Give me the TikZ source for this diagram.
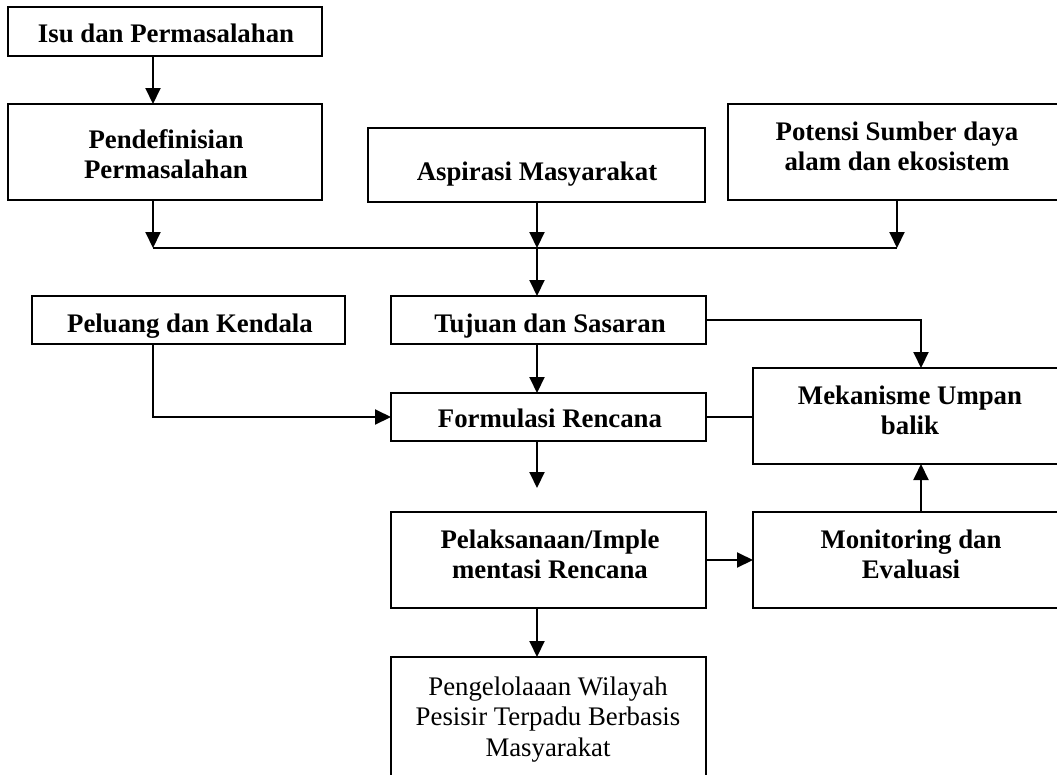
\documentclass[tikz,border=0pt]{standalone}
\usepackage{fontspec}
\setmainfont{Liberation Serif}
\usetikzlibrary{arrows.meta}
\newcommand\boxtext[1]{\parbox[t]{360pt}{\centering #1}}
\begin{document}
\begin{tikzpicture}[x=1pt,y=-1pt,
  box/.style={draw, line width=2pt, rectangle, inner sep=0pt, outer sep=0pt, anchor=north west},
  lbl/.style={anchor=base, inner sep=0pt, font=\fontsize{26.8}{30.5}\selectfont\bfseries},
  plainlbl/.style={anchor=base, inner sep=0pt, font=\fontsize{26.8}{30.5}\selectfont},
  link/.style={line width=2pt},
  arr/.style={line width=2pt, -{Triangle[length=16pt,width=15pt]}}]
\useasboundingbox (0,0) rectangle (1057,774);

% boxes
\node[box, minimum width=314pt, minimum height=49pt] (isu) at (8,7) {};
\node[box, minimum width=314pt, minimum height=96pt] (pend) at (8,104) {};
\node[box, minimum width=337pt, minimum height=74pt] (asp) at (368,128) {};
\node[box, minimum width=342pt, minimum height=96pt] (pot) at (728,104) {};
\node[box, minimum width=313pt, minimum height=48pt] (pel) at (32,296) {};
\node[box, minimum width=315pt, minimum height=48pt] (tuj) at (391,296) {};
\node[box, minimum width=315pt, minimum height=48pt] (form) at (391,393) {};
\node[box, minimum width=317pt, minimum height=96pt] (mek) at (753,368) {};
\node[box, minimum width=315pt, minimum height=96pt] (impl) at (391,512) {};
\node[box, minimum width=317pt, minimum height=96pt] (mon) at (753,512) {};
\node[box, minimum width=315pt, minimum height=143pt] (fin) at (391,657) {};

% texts
\node[lbl] (tisu) at (166,42) {\boxtext{Isu dan Permasalahan}};
\node[lbl] (tpend) at (166,148) {\boxtext{Pendefinisian\\Permasalahan}};
\node[lbl] (tasp) at (537,180) {\boxtext{Aspirasi Masyarakat}};
\node[lbl] (tpot) at (897,140) {\boxtext{Potensi Sumber daya\\alam dan ekosistem}};
\node[lbl] (tpel) at (190,332) {\boxtext{Peluang dan Kendala}};
\node[lbl] (ttuj) at (550,332) {\boxtext{Tujuan dan Sasaran}};
\node[lbl] (tform) at (550,427) {\boxtext{Formulasi Rencana}};
\node[lbl] (tmek) at (910,404) {\boxtext{Mekanisme Umpan\\balik}};
\node[lbl] (timpl) at (550,548) {\boxtext{Pelaksanaan/Imple\\mentasi Rencana}};
\node[lbl] (tmon) at (911,548) {\boxtext{Monitoring dan\\Evaluasi}};
\node[plainlbl] (tfin) at (548,695) {\boxtext{Pengelolaaan Wilayah\\Pesisir Terpadu Berbasis\\Masyarakat}};

% junction coordinates
\coordinate (jL) at (153,248);
\coordinate (jM) at (537,248);
\coordinate (jR) at (897,248);
\coordinate (jK) at (921,321);
\coordinate (fend) at (537,488);

% connectors
\draw[arr] (isu.south -| jL) -- (pend.north -| jL);
\draw[arr] (pend.south -| jL) -- (jL);
\draw[arr] (asp.south -| jM) -- (jM);
\draw[arr] (pot.south -| jR) -- (jR);
\draw[link] (jL) -- (jR);
\draw[arr] (jM) -- (tuj.north -| jM);
\draw[arr] (pel.south -| jL) -- (jL |- form.west) -- (form.west);
\draw[arr] (tuj.east) -| (mek.north -| jK);
\draw[link] (form.east) -- (form.east -| mek.west);
\draw[arr] (tuj.south -| jM) -- (form.north -| jM);
\draw[arr] (form.south -| jM) -- (fend);
\draw[arr] (impl.east) -- (impl.east -| mon.west);
\draw[arr] (mon.north -| jK) -- (mek.south -| jK);
\draw[arr] (impl.south -| jM) -- (fin.north -| jM);
\end{tikzpicture}
\end{document}
